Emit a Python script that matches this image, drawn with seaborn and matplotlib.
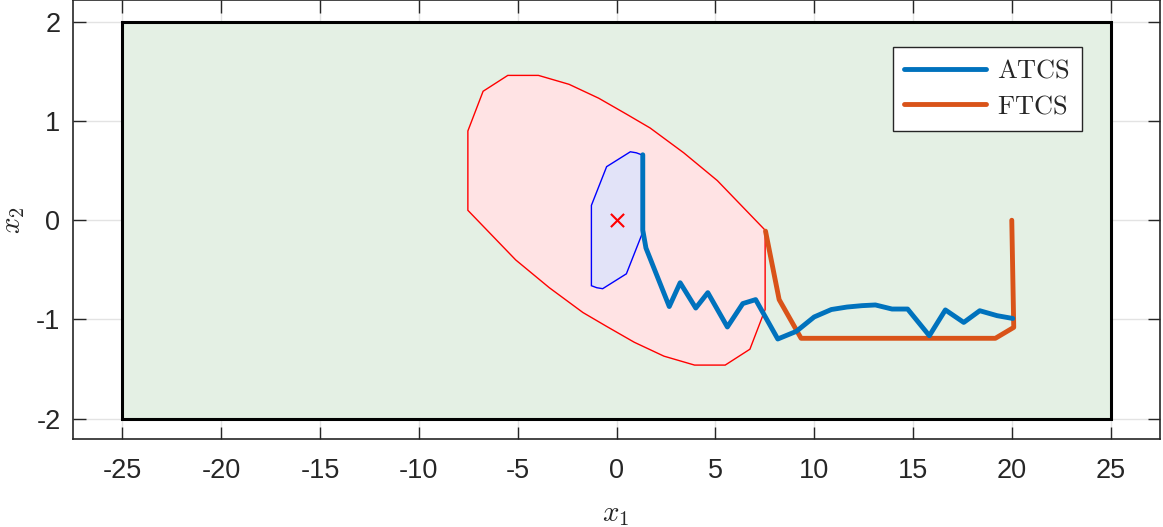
import matplotlib
matplotlib.use('Agg')
import matplotlib.pyplot as plt
import seaborn as sns
import pandas as pd

# outer constraint box
box_x = [-25, 25, 25, -25, -25]
box_y = [-2, -2, 2, 2, -2]

# red (outer) invariant set
red_x = [-5.5, -3.95, -2.4, -0.9, 0.5, 1.7, 3.4, 5.1, 7.52, 7.52, 6.75, 5.5,
         3.95, 2.4, 0.9, -0.5, -1.7, -3.4, -5.1, -7.52, -7.52, -6.75]
red_y = [1.46, 1.46, 1.37, 1.23, 1.07, 0.93, 0.68, 0.4, -0.1, -0.9, -1.3, -1.46,
         -1.46, -1.37, -1.23, -1.07, -0.93, -0.68, -0.4, 0.1, 0.9, 1.3]

# blue (inner) set
blue_x = [0.7, 1.0, 1.27, 1.27, 0.5, -0.7, -1.0, -1.27, -1.27, -0.5]
blue_y = [0.69, 0.68, 0.66, -0.15, -0.54, -0.69, -0.68, -0.66, 0.15, 0.54]

# trajectories
atcs_x = [1.33, 1.33, 1.49, 2.67, 3.22, 4.01, 4.62, 5.61, 6.39, 7.04, 8.16, 9.1,
          10.0, 10.87, 11.66, 12.42, 13.1, 13.94, 14.73, 15.83, 16.64, 17.57,
          18.38, 19.26, 20.05]
atcs_y = [0.66, -0.1, -0.28, -0.87, -0.63, -0.885, -0.73, -1.076, -0.84, -0.80,
          -1.197, -1.12, -0.975, -0.90, -0.875, -0.861, -0.854, -0.895, -0.895,
          -1.164, -0.904, -1.03, -0.912, -0.962, -0.99]
ftcs_x = [7.54, 8.23, 9.34, 19.17, 20.1, 20.0]
ftcs_y = [-0.11, -0.8, -1.19, -1.19, -1.08, 0.0]

sns.set_theme(style='ticks')
plt.rcParams['font.family'] = ['Liberation Sans', 'DejaVu Sans']
plt.rcParams['mathtext.fontset'] = 'cm'
plt.rcParams['axes.unicode_minus'] = False

fig = plt.figure(figsize=(11.63, 5.27), dpi=100)
ax = fig.add_axes([73 / 1163, (527 - 438.5) / 527, 1087 / 1163, 438.5 / 527])

ax.fill(box_x, box_y, facecolor='#e4f0e4', edgecolor='black', linewidth=2.2, zorder=1)
ax.fill(red_x, red_y, facecolor='#ffe3e4', edgecolor='#ff0000', linewidth=1.0, zorder=2)
ax.fill(blue_x, blue_y, facecolor='#e2e3f8', edgecolor='#0000ff', linewidth=1.0, zorder=3)
sns.scatterplot(x=[0], y=[0], marker='x', color='red', s=90, linewidth=1.5, ax=ax, zorder=4)

atcs = pd.DataFrame({'x': atcs_x, 'y': atcs_y})
ftcs = pd.DataFrame({'x': ftcs_x, 'y': ftcs_y})
sns.lineplot(data=atcs, x='x', y='y', sort=False, estimator=None, color='#0072BD',
             linewidth=3.5, label=r'$\mathrm{ATCS}$', ax=ax, zorder=6)
sns.lineplot(data=ftcs, x='x', y='y', sort=False, estimator=None, color='#D95319',
             linewidth=3.5, label=r'$\mathrm{FTCS}$', ax=ax, zorder=5)

ax.set_xlim(-27.5, 27.5)
ax.set_ylim(-2.2, 2.22)
ax.set_xticks(range(-25, 30, 5))
ax.set_yticks([-2, -1, 0, 1, 2])
ax.grid(True, color='#e3e3e3', linewidth=1)
ax.set_axisbelow(True)
ax.tick_params(direction='in', length=9, width=1, top=True, right=True,
               labelsize=19.5, colors='#262626')
ax.tick_params(axis='x', pad=14)
ax.tick_params(axis='y', pad=9)
for s in ax.spines.values():
    s.set_color('#262626')
    s.set_linewidth(1.2)

ax.set_xlabel(r'$x_1$', fontsize=21)
ax.set_ylabel(r'$x_2$', fontsize=21)
ax.xaxis.set_label_coords(0.4995, -0.14)
ax.yaxis.set_label_coords(-0.042, 0.497)

leg = ax.legend(loc='upper right', bbox_to_anchor=(0.928, 0.893), borderaxespad=0,
                fontsize=19, handlelength=3.1, fancybox=False, framealpha=1,
                edgecolor='#262626', borderpad=0.45, labelspacing=0.45,
                handletextpad=0.4)
leg.get_frame().set_linewidth(1.0)

fig.savefig('out.png', dpi=100)
